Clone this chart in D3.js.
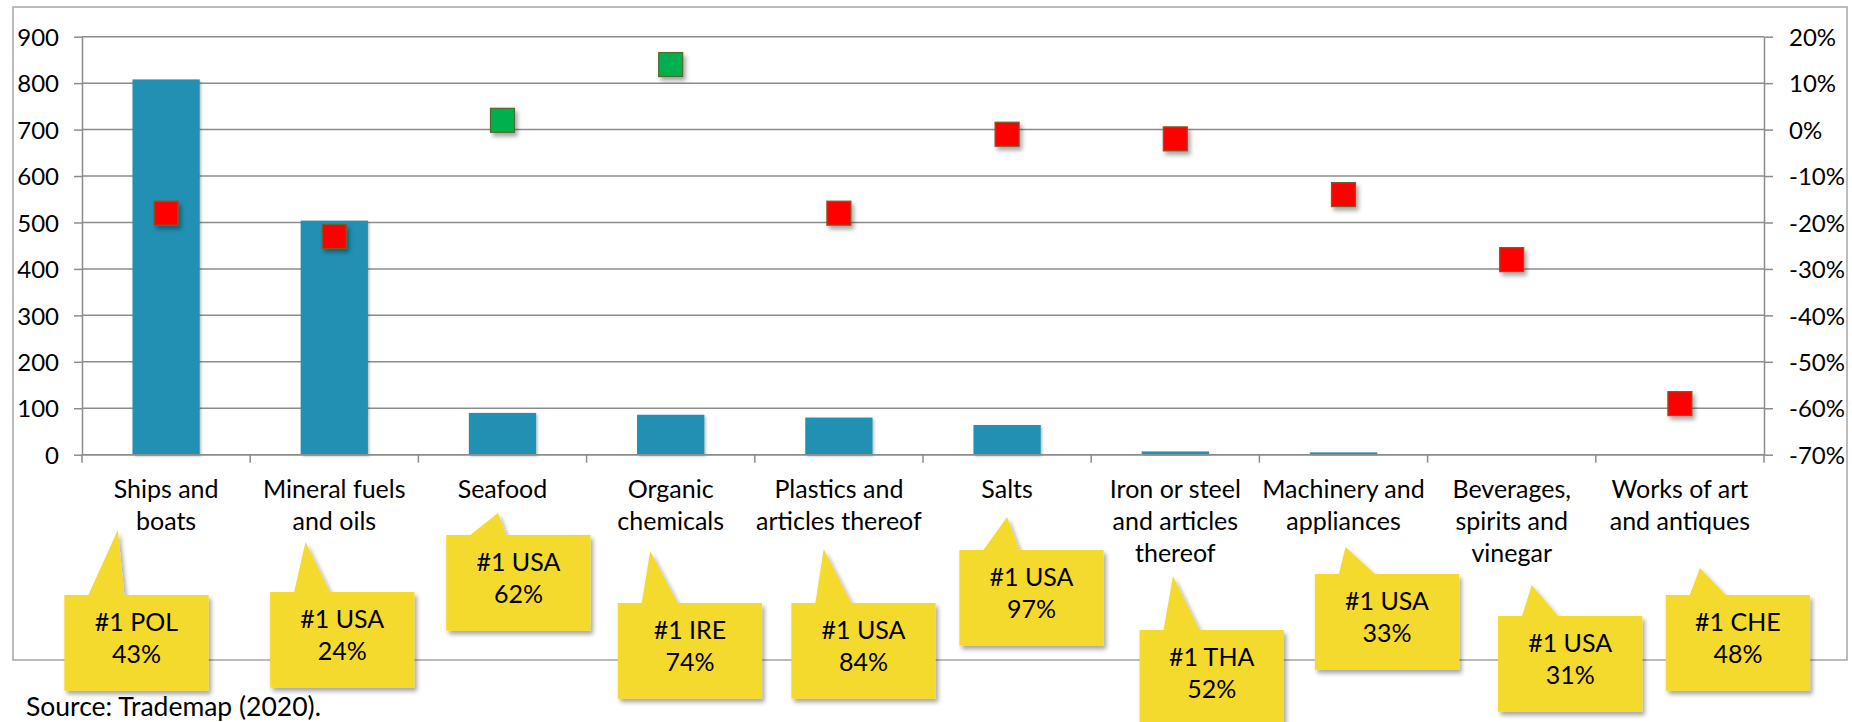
<!DOCTYPE html>
<html>
<head>
<meta charset="utf-8">
<script src="https://cdnjs.cloudflare.com/ajax/libs/d3/7.8.5/d3.min.js"></script>
<style>
  html, body { margin: 0; padding: 0; background: #fff; }
  svg { display: block; }
  text { font-family: Lato, "Open Sans", sans-serif; fill: #000; }
</style>
</head>
<body>
<svg id="chart" width="1852" height="722"></svg>
<script>
// ---------------- DATA ----------------
const categories = [
  "Ships and\nboats",
  "Mineral fuels\nand oils",
  "Seafood",
  "Organic\nchemicals",
  "Plastics and\narticles thereof",
  "Salts",
  "Iron or steel\nand articles\nthereof",
  "Machinery and\nappliances",
  "Beverages,\nspirits and\nvinegar",
  "Works of art\nand antiques"
];
const exportValues = [808, 504, 90, 86, 80, 64, 7, 5, 1, 1];
const growthPct = [-18, -23, 2, 14, -18, -1, -2, -14, -28, -59];
const topPartner = ["#1 POL", "#1 USA", "#1 USA", "#1 IRE", "#1 USA", "#1 USA", "#1 THA", "#1 USA", "#1 USA", "#1 CHE"];
const topShare = ["43%", "24%", "62%", "74%", "84%", "97%", "52%", "33%", "31%", "48%"];
const leftTicks = [0, 100, 200, 300, 400, 500, 600, 700, 800, 900];
const rightTicks = [-70, -60, -50, -40, -30, -20, -10, 0, 10, 20];
const sourceNote = "Source: Trademap (2020).";

// ---------------- LAYOUT (positions of callouts relative to category centre) ----------------
const calloutBoxDx  = [-29.6, 8, 15.9, 19.2, 24.6, 24.4, 36.4, 43.5, 58.5, 58];
const calloutBoxTop = [595, 592, 535, 603, 603, 550, 630, 574, 616, 595];
const calloutTipDx  = [-48.3, -28.8, -4.5, -20.5, -15.2, 0, -2.3, 2, 20, 20];
const calloutTipY   = [530, 542, 513, 551, 549, 517, 576, 547, 585, 568];

// ---------------- DRAW ----------------
const svg = d3.select("#chart");
const plotL = 82, plotR = 1764, plotT = 36.7, plotB = 454.7;
const gridColor = "#8c8c8c";

const defs = svg.append("defs");
const f1 = defs.append("filter").attr("id", "shadow").attr("x", "-30%").attr("y", "-30%").attr("width", "170%").attr("height", "170%");
f1.append("feDropShadow").attr("dx", 2.5).attr("dy", 3.5).attr("stdDeviation", 2.2)
  .attr("flood-color", "#000").attr("flood-opacity", 0.35);
const f2 = defs.append("filter").attr("id", "barshadow").attr("x", "-10%").attr("y", "-10%").attr("width", "130%").attr("height", "130%");
f2.append("feDropShadow").attr("dx", 1.5).attr("dy", 1.5).attr("stdDeviation", 1.2)
  .attr("flood-color", "#000").attr("flood-opacity", 0.25);

// outer frame
svg.append("rect").attr("x", 13).attr("y", 7).attr("width", 1834).attr("height", 653)
  .attr("fill", "#fff").attr("stroke", "#a6a6a6").attr("stroke-width", 1.5);

const x = d3.scaleBand().domain(categories).range([plotL, plotR]).paddingInner(0.6).paddingOuter(0.3);
const yL = d3.scaleLinear().domain([0, 900]).range([plotB, plotT]);
const yR = d3.scaleLinear().domain([-70, 20]).range([plotB, plotT]);
const cx = c => x(c) + x.bandwidth() / 2;

// gridlines
svg.append("g").selectAll("line").data(leftTicks).join("line")
  .attr("x1", plotL).attr("x2", plotR)
  .attr("y1", d => yL(d)).attr("y2", d => yL(d))
  .attr("stroke", gridColor).attr("stroke-width", 1.5);

// left axis
const axL = svg.append("g").attr("transform", `translate(${plotL},0)`)
  .call(d3.axisLeft(yL).tickValues(leftTicks).tickSize(8).tickSizeOuter(0).tickPadding(15));
axL.select(".domain").attr("stroke", gridColor).attr("stroke-width", 1.5);
axL.selectAll(".tick line").attr("stroke", gridColor).attr("stroke-width", 1.5);
axL.selectAll(".tick text").attr("font-size", 24).attr("font-family", "Lato").attr("fill", "#000").attr("dy", "0.36em");

// right axis
const axR = svg.append("g").attr("transform", `translate(${plotR},0)`)
  .call(d3.axisRight(yR).tickValues(rightTicks).tickSize(9).tickSizeOuter(0).tickPadding(16).tickFormat(d => d + "%"));
axR.select(".domain").attr("stroke", gridColor).attr("stroke-width", 1.5);
axR.selectAll(".tick line").attr("stroke", gridColor).attr("stroke-width", 1.5);
axR.selectAll(".tick text").attr("font-size", 24).attr("font-family", "Lato").attr("fill", "#000").attr("dy", "0.36em");

// category axis ticks at band boundaries
const boundaries = d3.range(categories.length + 1).map(i => plotL + i * x.step());
svg.append("g").selectAll("line").data(boundaries).join("line")
  .attr("x1", d => d).attr("x2", d => d).attr("y1", plotB).attr("y2", plotB + 8)
  .attr("stroke", gridColor).attr("stroke-width", 1.5);

// bars
svg.append("g").selectAll("rect").data(exportValues).join("rect")
  .attr("x", (d, i) => x(categories[i]))
  .attr("width", x.bandwidth())
  .attr("y", d => yL(d))
  .attr("height", d => plotB - yL(d))
  .attr("fill", "#2290b3")
  .attr("filter", "url(#barshadow)");

// zero line on top of bars
svg.append("line").attr("x1", plotL).attr("x2", plotR).attr("y1", plotB).attr("y2", plotB)
  .attr("stroke", gridColor).attr("stroke-width", 1.5);

// growth markers
const ms = 24;
svg.append("g").selectAll("rect").data(growthPct).join("rect")
  .attr("x", (d, i) => cx(categories[i]) - ms / 2)
  .attr("y", d => yR(d) - ms / 2)
  .attr("width", ms).attr("height", ms)
  .attr("fill", d => d >= 0 ? "#00b050" : "#ff0000")
  .attr("stroke", d => d >= 0 ? "#4f6b2a" : "#7a5a2a")
  .attr("stroke-width", 1.2)
  .attr("filter", "url(#shadow)");

// category labels
const lab = svg.append("g").selectAll("text").data(categories).join("text")
  .attr("x", d => cx(d)).attr("y", 498)
  .attr("text-anchor", "middle").attr("font-size", 25);
lab.each(function(d) {
  const t = d3.select(this);
  d.split("\n").forEach((line, j) => {
    t.append("tspan").attr("x", cx(d)).attr("y", 498 + j * 32).text(line);
  });
});

// source note
svg.append("text").attr("x", 26).attr("y", 716).attr("font-size", 26.5).text(sourceNote);

// callouts
const bw = 144.3, bh = 95.7;
const callouts = svg.append("g").selectAll("g").data(categories).join("g").attr("filter", "url(#shadow)");
callouts.each(function(c, i) {
  const g = d3.select(this);
  const left = cx(c) + calloutBoxDx[i] - bw / 2;
  const top = calloutBoxTop[i];
  const tipX = cx(c) + calloutTipDx[i];
  const tipY = calloutTipY[i];
  const p = d3.path();
  p.moveTo(left, top);
  p.lineTo(left + 24, top);
  p.lineTo(tipX, tipY);
  p.lineTo(left + 60, top);
  p.lineTo(left + bw, top);
  p.lineTo(left + bw, top + bh);
  p.lineTo(left, top + bh);
  p.closePath();
  g.append("path").attr("d", p.toString()).attr("fill", "#f5da2f");
});
const ctext = svg.append("g").selectAll("text").data(categories).join("text")
  .attr("text-anchor", "middle").attr("font-size", 25);
ctext.each(function(c, i) {
  const t = d3.select(this);
  const mx = cx(c) + calloutBoxDx[i];
  t.append("tspan").attr("x", mx).attr("y", calloutBoxTop[i] + 36).text(topPartner[i]);
  t.append("tspan").attr("x", mx).attr("y", calloutBoxTop[i] + 68).text(topShare[i]);
});
</script>
</body>
</html>
